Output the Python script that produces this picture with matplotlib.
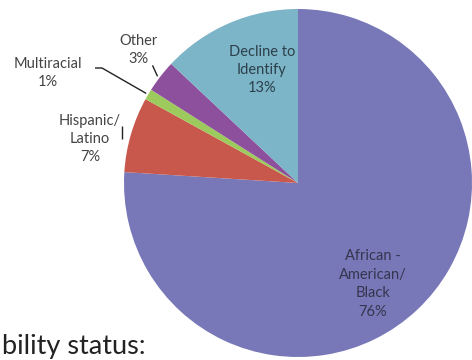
import numpy as np
import matplotlib.pyplot as plt

plt.rcParams['font.family'] = ['Lato', 'DejaVu Sans']

# ethnicity breakdown, clockwise from 12 o'clock
groups = ['African -\nAmerican/\nBlack', 'Hispanic/\nLatino', 'Multiracial',
          'Other', 'Decline to\nIdentify']
shares = [76, 7, 1, 3, 13]
colors = ['#7878b8', '#c8584c', '#9cca5c', '#8c509c', '#7cb4c8']

W, H = 472, 360
fig = plt.figure(figsize=(W / 100, H / 100), dpi=100)
ax = fig.add_axes([0, 0, 1, 1])

cx, cy, R = 298, 177, 174
wedges, _ = ax.pie(shares, colors=colors, startangle=90, counterclock=False,
                   center=(cx, cy), radius=R,
                   wedgeprops=dict(linewidth=0))
ax.set_xlim(0, W)
ax.set_ylim(0, H)
ax.set_aspect('equal')
ax.axis('off')


def edge_point(w, r=R):
    a = np.deg2rad(0.5 * (w.theta1 + w.theta2))
    return cx + r * np.cos(a), cy + r * np.sin(a)


txt = dict(fontsize=10.5, color='#444444', ha='center', va='center',
           linespacing=1.4)

def label(i):
    return groups[i] + '\n' + str(shares[i]) + '%'

# labels inside the pie
ax.text(373, H - 284, label(0), **dict(txt, color='#35354f'))
ax.text(262, H - 70, label(4), **dict(txt, color='#2c404a'))

# outside labels with leader lines
ax.text(90, H - 139, label(1), **txt)
ax.text(48, H - 73, label(2), **txt)
ax.text(138, H - 50, label(3), **txt)

lk = dict(color='#222222', linewidth=1.0, solid_capstyle='butt')
x, y = edge_point(wedges[1], R + 5)
ax.plot([x - 4, x - 4], [y - 6, y + 7], **lk)
x, y = edge_point(wedges[2])
ax.plot([x - 2, 102, 95], [y + 1, H - 68, H - 68], **lk)
x, y = edge_point(wedges[3])
ax.plot([x - 3, x - 8], [y, y + 11], **lk)

fig.text(0.004, 0.017, 'bility status:', fontsize=19.5, color='#222222',
         ha='left', va='baseline')

fig.savefig('out.png', dpi=100)
